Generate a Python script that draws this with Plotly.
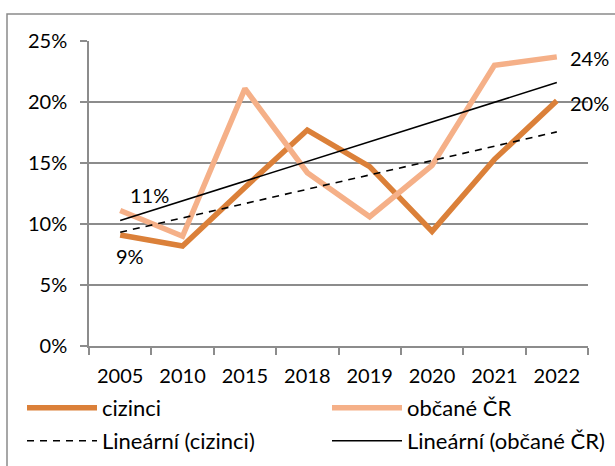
import numpy as np
import plotly.graph_objects as go

# Share of population by year (percent)
years = ["2005", "2010", "2015", "2018", "2019", "2020", "2021", "2022"]
cizinci = [9.1, 8.2, 13.0, 17.7, 14.7, 9.4, 15.3, 20.1]
obcane = [11.1, 9.0, 21.1, 14.2, 10.6, 14.8, 23.0, 23.7]
y_ticks = [0, 5, 10, 15, 20, 25]

DARK = "#DB8039"
LIGHT = "#F5B088"
GRID = "#8C8C8C"
FONT = "Lato"

# Linear trend over the category index, as a spreadsheet trendline does
idx = np.arange(len(years))


def linear_trend(values):
    slope, intercept = np.polyfit(idx, np.array(values) / 100, 1)
    return intercept + slope * idx


W, H = 615, 466
ML, MR, MT, MB = 89, 27, 41, 120
pw, ph = W - ML - MR, H - MT - MB


def px_x(x):
    return (x - ML) / pw


def px_y(y):
    return (H - MB - y) / ph


fig = go.Figure()
fig.add_trace(go.Scatter(
    x=years, y=[v / 100 for v in cizinci], name="cizinci", mode="lines",
    line=dict(color=DARK, width=5.5), hoverinfo="skip", legend="legend"))
fig.add_trace(go.Scatter(
    x=years, y=[v / 100 for v in obcane], name="občané ČR", mode="lines",
    line=dict(color=LIGHT, width=5.5), hoverinfo="skip", legend="legend2"))
fig.add_trace(go.Scatter(
    x=years, y=linear_trend(cizinci), name="Lineární (cizinci)", mode="lines",
    line=dict(color="black", width=1.6, dash="7px,6px"), hoverinfo="skip",
    legend="legend3"))
fig.add_trace(go.Scatter(
    x=years, y=linear_trend(obcane), name="Lineární (občané ČR)", mode="lines",
    line=dict(color="black", width=1.6), hoverinfo="skip", legend="legend4"))

# Data labels at the first and last points (x given as category index)
labels = [
    (0, obcane[0], 29, 16, "center"),
    (0, cizinci[0], 10, -21, "center"),
    (len(years) - 1, obcane[-1], 11, -1, "left"),
    (len(years) - 1, cizinci[-1], 11, -2, "left"),
]
for i, v, dx, dy, anchor in labels:
    fig.add_annotation(
        x=i, y=v / 100, text=f"{round(v):.0f}%", showarrow=False,
        xshift=dx, yshift=dy, xanchor=anchor, yanchor="middle",
        font=dict(family=FONT, size=20, color="black"))

# Outer chart frame
fig.add_shape(
    type="rect", xref="paper", yref="paper",
    x0=px_x(7), x1=px_x(W + 20), y0=px_y(H + 20), y1=px_y(14),
    line=dict(color="#8A8A8A", width=1.5), fillcolor="rgba(0,0,0,0)",
    layer="below")

legend_style = dict(
    orientation="h", xanchor="left", yanchor="middle", itemwidth=70,
    font=dict(family=FONT, size=22, color="black"),
    bgcolor="rgba(0,0,0,0)")

fig.update_layout(
    width=W, height=H,
    margin=dict(l=ML, r=MR, t=MT, b=MB, pad=0, autoexpand=False),
    paper_bgcolor="white", plot_bgcolor="white",
    font=dict(family=FONT, size=20, color="black"),
    showlegend=True,
    legend=dict(x=px_x(22), y=px_y(408), **legend_style),
    legend2=dict(x=px_x(327), y=px_y(408), **legend_style),
    legend3=dict(x=px_x(22), y=px_y(441), **legend_style),
    legend4=dict(x=px_x(327), y=px_y(441), **legend_style),
    xaxis=dict(
        type="category", range=[-0.5, len(years) - 0.5],
        tickson="boundaries", ticks="outside", ticklen=7,
        tickwidth=1.5, tickcolor=GRID, showline=True, linecolor=GRID,
        linewidth=1.5, showgrid=False, zeroline=False, ticklabelstandoff=11,
        tickfont=dict(family=FONT, size=20, color="black"),
        fixedrange=True),
    yaxis=dict(
        range=[0, 0.25], tickvals=[t / 100 for t in y_ticks],
        ticktext=[f"{t}%" for t in y_ticks], ticks="outside", ticklen=7,
        tickwidth=1.5, tickcolor=GRID, showline=True, linecolor=GRID,
        linewidth=1.5, showgrid=True, gridcolor=GRID, gridwidth=1.5,
        zeroline=False, ticklabelstandoff=9,
        tickfont=dict(family=FONT, size=20, color="black"),
        fixedrange=True),
)

fig.write_html("out.html", config={"displayModeBar": False})
